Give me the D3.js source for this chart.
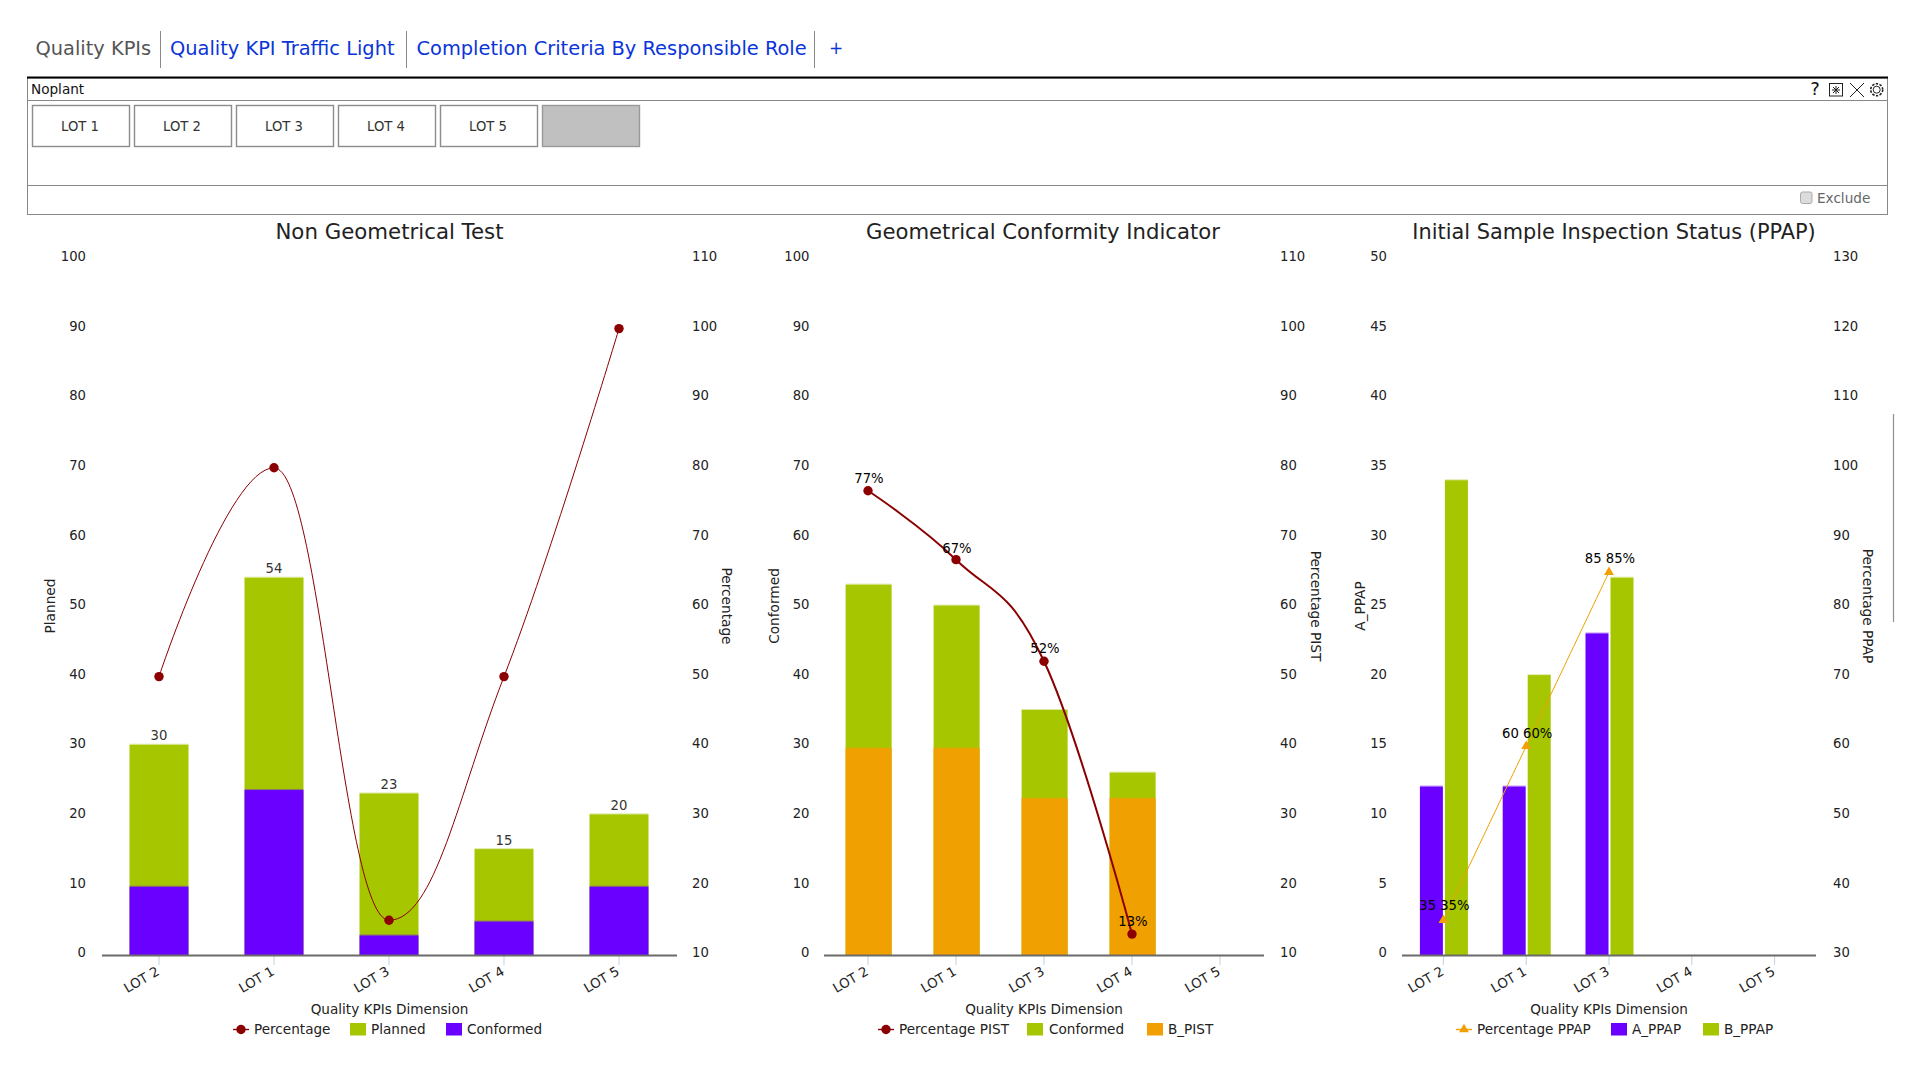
<!DOCTYPE html>
<html><head><meta charset="utf-8">
<style>
html,body{margin:0;padding:0;background:#fff;overflow:hidden}
svg{display:block}
text{font-family:"DejaVu Sans",sans-serif;}
</style>
<script src="https://cdn.jsdelivr.net/npm/d3@7"></script>
</head><body><svg id="c" width="1920" height="1080"></svg>
<script>
// ---- data ----
const tabLabels = ["Quality KPIs","Quality KPI Traffic Light","Completion Criteria By Responsible Role","+"];
const lotButtons = ["LOT 1","LOT 2","LOT 3","LOT 4","LOT 5",""];
const categories = ["LOT 2","LOT 1","LOT 3","LOT 4","LOT 5"];

const planned = [30,54,23,15,20];
const conformed1 = [9.6,23.5,2.6,4.6,9.6];
const percentage1 = [50,80,15,50,100];

const conformed2 = [53,50,35,26,null];
const bPist = [29.5,29.5,22.3,22.3,null];
const percentagePist = [76.7,66.8,52.2,13,null];
const pistLabels = ["77%","67%","52%","13%"];

const aPpap = [12,12,23,null,null];
const bPpap = [34,20,27,null,null];
const percentagePpap = [35,60,85,null,null];
const ppapLabels = ["35 35%","60 60%","85 85%"];

const leftTicks1 = [0,10,20,30,40,50,60,70,80,90,100];
const rightTicks1 = [10,20,30,40,50,60,70,80,90,100,110];
const leftTicks3 = [0,5,10,15,20,25,30,35,40,45,50];
const rightTicks3 = [30,40,50,60,70,80,90,100,110,120,130];

// ---- style ----
const GREEN="#a6c600",PURPLE="#6a00ff",ORANGE="#f0a000",RED="#8b0000";
const INK="#222",FS=13.2,FS2=13.6;
const svg=d3.select("#c");
const AXIS=955;

function txt(g,x,y,s,o={}){
  return g.append("text").attr("x",x).attr("y",y).attr("dy",".36em")
    .attr("font-size",o.size||FS).attr("fill",o.fill||INK)
    .attr("text-anchor",o.anchor||"start").text(s);
}

// Highcharts-style spline, as a d3 curve
function hcSpline(ctx){
  let pts;
  return {
    areaStart(){},areaEnd(){},
    lineStart(){pts=[];},
    point(x,y){pts.push([+x,+y]);},
    lineEnd(){
      const s=1.5,d=2.5,n=pts.length;
      const L=[],R=[];
      for(let i=0;i<n;i++){
        const [x,y]=pts[i];
        if(i===0||i===n-1){L[i]=[x,y];R[i]=[x,y];continue;}
        const [lx,ly]=pts[i-1],[nx,ny]=pts[i+1];
        let lcx=(s*x+lx)/d,lcy=(s*y+ly)/d,rcx=(s*x+nx)/d,rcy=(s*y+ny)/d;
        const c=((rcy-lcy)*(rcx-x))/(rcx-lcx)+y-rcy;
        lcy+=c;rcy+=c;
        if(lcy>ly&&lcy>y){lcy=Math.max(ly,y);rcy=2*y-lcy;}
        else if(lcy<ly&&lcy<y){lcy=Math.min(ly,y);rcy=2*y-lcy;}
        if(rcy>ny&&rcy>y){rcy=Math.max(ny,y);lcy=2*y-rcy;}
        else if(rcy<ny&&rcy<y){rcy=Math.min(ny,y);lcy=2*y-rcy;}
        L[i]=[lcx,lcy];R[i]=[rcx,rcy];
      }
      pts.forEach((p,i)=>{
        if(i===0)ctx.moveTo(p[0],p[1]);
        else ctx.bezierCurveTo(R[i-1][0],R[i-1][1],L[i][0],L[i][1],p[0],p[1]);
      });
    }
  };
}

// ---- header ----
const tabX=[35.5,170,416.5,829];
const tabSize=[19.4,19.4,19.4,17];
tabLabels.forEach((t,i)=>txt(svg,tabX[i],48,t,{size:tabSize[i],fill:i?"#0a35d8":"#555"}));
[160.5,406.5,814.5].forEach(x=>svg.append("line").attr("x1",x).attr("x2",x).attr("y1",31).attr("y2",68).attr("stroke","#8a8a8a"));

const PL=27,PR=1887;
svg.append("rect").attr("x",PL+.5).attr("y",78).attr("width",PR-PL).attr("height",136.5).attr("fill","none").attr("stroke","#888");
svg.append("line").attr("x1",PL).attr("x2",PR+1).attr("y1",77.5).attr("y2",77.5).attr("stroke","#000").attr("stroke-width",2);
[100,185].forEach(y=>svg.append("line").attr("x1",PL).attr("x2",PR).attr("y1",y+.5).attr("y2",y+.5).attr("stroke","#888"));
txt(svg,31,89,"Noplant",{size:13.6,fill:"#111"});

lotButtons.forEach((b,i)=>{
  const x=32+i*102;
  svg.append("rect").attr("x",x+.5).attr("y",105.5).attr("width",97).attr("height",41).attr("fill",b?"#fff":"#c0c0c0").attr("stroke",b?"#8c8c8c":"#999").attr("stroke-width",1.4);
  if(b)txt(svg,x+48,126,b,{anchor:"middle",fill:"#333"});
});

// icons
txt(svg,1815,89,"?",{size:18,anchor:"middle",fill:"#111"});
const ic=svg.append("g").attr("fill","none").attr("stroke","#222");
ic.append("rect").attr("x",1829.5).attr("y",83.5).attr("width",13).attr("height",12.5);
[[1836,86,1836,94],[1832,90,1840,90],[1833,87,1839,93],[1839,87,1833,93]].forEach(l=>ic.append("line").attr("x1",l[0]).attr("y1",l[1]).attr("x2",l[2]).attr("y2",l[3]));
ic.append("line").attr("x1",1850).attr("y1",83).attr("x2",1864).attr("y2",97);
ic.append("line").attr("x1",1864).attr("y1",83).attr("x2",1850).attr("y2",97);
ic.append("circle").attr("cx",1876.7).attr("cy",89.7).attr("r",3.5);
ic.append("circle").attr("cx",1876.7).attr("cy",89.7).attr("r",6).attr("stroke-dasharray","2.4 1.4").attr("stroke-width",1.6);
svg.append("rect").attr("x",1800.5).attr("y",192).attr("width",11.5).attr("height",11.5).attr("rx",2).attr("fill","#dcdcdc").attr("stroke","#aaa");
txt(svg,1817,198.5,"Exclude",{fill:"#666",size:FS2});

// page scrollbar edge
svg.append("line").attr("x1",1893.5).attr("x2",1893.5).attr("y1",414).attr("y2",622).attr("stroke","#909090").attr("stroke-width",1.2);

// bar rect with a pale 1px top edge
function bar(g,x,w,top,color){
  g.append("rect").attr("x",x).attr("width",w).attr("y",top).attr("height",AXIS-top).attr("fill",color);
  g.append("rect").attr("x",x).attr("width",w).attr("y",top-1).attr("height",1).attr("fill",color).attr("opacity",.35);
}

// ---- charts ----
function chart(c){
  const g=svg.append("g");
  const x=d3.scaleBand().domain(categories).range([c.x0,c.x1]);
  const yL=d3.scaleLinear().domain(c.leftDomain).range([953.5,257.5]);
  const yR=d3.scaleLinear().domain(c.rightDomain).range([955,259]);
  const mid=d=>x(d)+x.bandwidth()/2;

  txt(g,c.cx,231,c.title,{size:c.titleSize,anchor:"middle",fill:"#222"});

  const la=g.append("g").attr("transform",`translate(${c.leftEdge},-1)`).call(d3.axisLeft(yL).tickValues(c.leftTicks).tickSize(0).tickPadding(0).tickFormat(d3.format("d")));
  const ra=g.append("g").attr("transform",`translate(${c.rightEdge},-2.5)`).call(d3.axisRight(yR).tickValues(c.rightTicks).tickSize(0).tickPadding(0).tickFormat(d3.format("d")));
  [la,ra].forEach(a=>{a.select(".domain").remove();a.selectAll("text").attr("font-size",FS).attr("fill",INK).attr("font-family",null);});

  [[c.leftTitleX,-90,c.leftTitle],[c.rightTitleX,90,c.rightTitle]].forEach(([tx,r,t])=>{
    g.append("text").attr("transform",`translate(${tx},606) rotate(${r})`).attr("text-anchor","middle").attr("dy",".36em").attr("font-size",13.7).attr("fill",INK).text(t);
  });

  c.bars(g,x,yL,mid);

  // category axis
  const xa=g.append("g").attr("transform",`translate(0,${AXIS})`).call(d3.axisBottom(x).tickSize(9).tickPadding(0));
  xa.select(".domain").remove();
  xa.selectAll(".tick line").attr("stroke","#c0d0e0").attr("transform","translate(0,1)");
  xa.selectAll(".tick text").attr("font-size",13.4).attr("fill",INK).attr("font-family",null)
    .attr("text-anchor","end").attr("dy",0).attr("y",0)
    .attr("transform","translate(1.5,19) rotate(-30)");
  g.append("line").attr("x1",c.ax0).attr("x2",c.ax1).attr("y1",AXIS+.5).attr("y2",AXIS+.5).attr("stroke","#6b6b6b").attr("stroke-width",2);
  txt(g,c.cx2,1009,"Quality KPIs Dimension",{anchor:"middle",size:FS2});

  // line
  const vals=c.line.map((v,i)=>({c:categories[i],v})).filter(d=>d.v!=null);
  const gen=d3.line().x(d=>mid(d.c)).y(d=>yR(d.v)).curve(hcSpline);
  g.append("path").attr("d",gen(vals)).attr("fill","none").attr("stroke",c.lineColor).attr("stroke-width",c.lineWidth);
  vals.forEach(d=>marker(g,mid(d.c),yR(d.v),c.lineColor,c.marker));
  if(c.labels)vals.forEach((d,i)=>txt(g,mid(d.c)+1,yR(d.v)-c.labelOff[i],c.labels[i],{anchor:"middle",fill:"#000"}));

  // legend
  c.legend.forEach(l=>{
    if(l.line){
      g.append("line").attr("x1",l.x).attr("x2",l.x+16).attr("y1",1029.5).attr("y2",1029.5).attr("stroke",c.lineColor).attr("stroke-width",1.4);
      marker(g,l.x+8,1029.5,c.lineColor,c.marker);
    } else {
      g.append("rect").attr("x",l.x).attr("y",1023).attr("width",16).attr("height",12.5).attr("fill",l.color);
    }
    txt(g,l.tx,1029,l.label,{size:FS2});
  });
}
function marker(g,x,y,color,kind){
  if(kind==="tri") g.append("path").attr("transform",`translate(${x},${y})`).attr("d",d3.symbol(d3.symbolTriangle,42)()).attr("fill",color);
  else g.append("circle").attr("cx",x).attr("cy",y).attr("r",4.7).attr("fill",color);
}
function stacked(totals,lower,colTop,colBottom,w,shift){
  return (g,x,y)=>{
    categories.forEach((cat,i)=>{
      if(totals[i]==null)return;
      const bx=x(cat)+(x.bandwidth()-w)/2+shift;
      bar(g,bx,w,y(totals[i]),colTop);
      bar(g,bx,w,y(lower[i]),colBottom);
    });
  };
}

chart({title:"Non Geometrical Test",titleSize:21.3,cx:389.5,cx2:389.5,x0:101.5,x1:676.5,ax0:102,ax1:677,
  leftDomain:[0,100],rightDomain:[10,110],leftTicks:leftTicks1,rightTicks:rightTicks1,
  leftEdge:86,rightEdge:692,leftTitle:"Planned",rightTitle:"Percentage",leftTitleX:50,rightTitleX:727,
  bars:(g,x,y,mid)=>{
    stacked(planned,conformed1,GREEN,PURPLE,59,0)(g,x,y);
    planned.forEach((v,i)=>txt(g,mid(categories[i]),y(v)-9,v,{anchor:"middle",fill:"#333"}));
  },
  line:percentage1,lineColor:RED,lineWidth:1,marker:"dot",
  legend:[{line:1,x:233,tx:254,label:"Percentage"},{x:350,tx:371,label:"Planned",color:GREEN},{x:446,tx:467,label:"Conformed",color:PURPLE}]
});
chart({title:"Geometrical Conformity Indicator",titleSize:21.2,cx:1043,cx2:1044,x0:824,x1:1264,ax0:824,ax1:1264,
  leftDomain:[0,100],rightDomain:[10,110],leftTicks:leftTicks1,rightTicks:rightTicks1,
  leftEdge:809.5,rightEdge:1280,leftTitle:"Conformed",rightTitle:"Percentage PIST",leftTitleX:774,rightTitleX:1316,
  bars:stacked(conformed2,bPist,GREEN,ORANGE,46,.6),
  line:percentagePist,lineColor:RED,lineWidth:2,marker:"dot",labels:pistLabels,labelOff:[13,11.4,13,12.6],
  legend:[{line:1,x:878,tx:899,label:"Percentage PIST"},{x:1027,tx:1049,label:"Conformed",color:GREEN},{x:1147,tx:1168,label:"B_PIST",color:ORANGE}]
});
chart({title:"Initial Sample Inspection Status (PPAP)",titleSize:20.85,cx:1614,cx2:1609,x0:1402,x1:1816,ax0:1402,ax1:1816,
  leftDomain:[0,50],rightDomain:[30,130],leftTicks:leftTicks3,rightTicks:rightTicks3,
  leftEdge:1387,rightEdge:1833,leftTitle:"A_PPAP",rightTitle:"Percentage PPAP",leftTitleX:1360,rightTitleX:1868,
  bars:(g,x,y)=>{
    const w=23,gap=2;
    categories.forEach((cat,i)=>{
      const m=x(cat)+x.bandwidth()/2+.5;
      if(aPpap[i]!=null)bar(g,m-gap/2-w,w,y(aPpap[i]),PURPLE);
      if(bPpap[i]!=null)bar(g,m+gap/2,w,y(bPpap[i]),GREEN);
    });
  },
  line:percentagePpap,lineColor:ORANGE,lineWidth:1,marker:"tri",labels:ppapLabels,labelOff:[15,13,14],
  legend:[{line:1,x:1456,tx:1477,label:"Percentage PPAP"},{x:1611,tx:1632,label:"A_PPAP",color:PURPLE},{x:1703,tx:1724,label:"B_PPAP",color:GREEN}]
});
</script></body></html>
